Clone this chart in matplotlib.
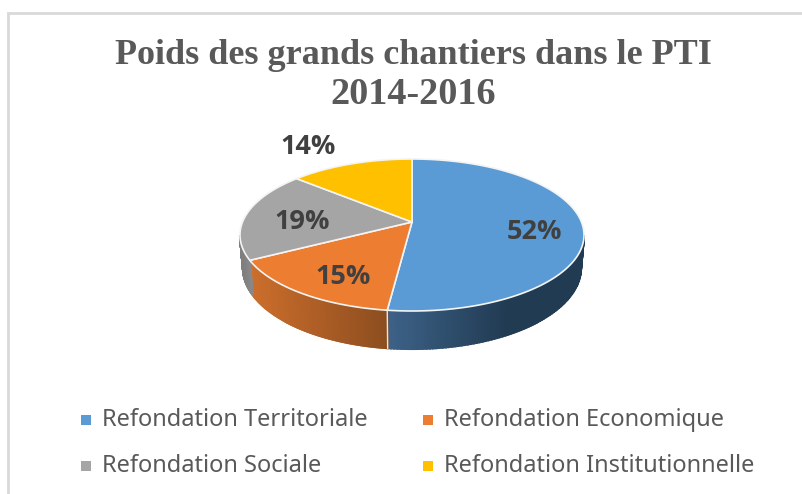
"""
Poids des grands chantiers dans le PTI 2014-2016 - pseudo 3D pie
Axes run in image pixels so the perspective of the pie can be placed directly
"""
import matplotlib
matplotlib.use('Agg')
import matplotlib.pyplot as plt
import numpy as np

# Data
categories = ['Refondation Territoriale', 'Refondation Economique',
              'Refondation Sociale', 'Refondation Institutionnelle']
slice_shares = [52.3, 17.3, 18.7, 11.7]  # drawn shares, as measured on the rim
pct_labels = ['52%', '15%', '19%', '14%']

colors = ['#5B9BD5', '#ED7D31', '#A5A5A5', '#FFC000']
side_left = ['#3D6288', '#CC6E2C', '#7F7F7F', '#7F7F7F']
side_right = ['#213B52', '#8C4D1F', '#8A8A8A', '#8A8A8A']

W, H = 802, 494
fig = plt.figure(figsize=(W / 100, H / 100), dpi=100, facecolor='white')
ax = fig.add_axes([0, 0, 1, 1])
ax.set_xlim(0, W)
ax.set_ylim(H, 0)
ax.axis('off')

# Frame
ax.plot([8, 8, W], [H, 13, 13], color='#D9D9D9', lw=2, solid_joinstyle='miter')

# Pie geometry
cx, cy, rx, ry = 412, 235, 172, 76
bx, by, brx, bry = 412, 268, 169, 81
apex_y = 222


def rim(theta):
    return cx + rx * np.sin(theta), cy - ry * np.cos(theta)


def base(theta):
    return bx + brx * np.sin(theta), by - bry * np.cos(theta)


edges = np.radians(np.concatenate([[0], np.cumsum(slice_shares)]) * 3.6)

# Side walls, split into thin columns for the gradient
for i in range(len(slice_shares)):
    a = max(edges[i], np.pi / 2)
    b = min(edges[i + 1], 3 * np.pi / 2)
    if a >= b:
        continue
    th = np.linspace(a, b, 90)
    x_span = np.sort([rim(a)[0], rim(b)[0]])
    c0 = np.array(matplotlib.colors.to_rgb(side_left[i]))
    c1 = np.array(matplotlib.colors.to_rgb(side_right[i]))
    for t0, t1 in zip(th[:-1], th[1:]):
        x0, y0 = rim(t0)
        x1, y1 = rim(t1)
        x2, y2 = base(t1)
        x3, y3 = base(t0)
        f = (0.5 * (x0 + x1) - x_span[0]) / (x_span[1] - x_span[0])
        if i == 0:
            f = min(f / 0.6, 1)  # blue reaches its darkest tone early
        col = c0 + (c1 - c0) * f
        ax.fill([x0, x1, x2, x3], [y0, y1, y2, y3], color=col, lw=1.5, zorder=2)

# Seam between the blue and orange walls
xs, ys = rim(edges[1])
xb, yb = base(edges[1])
ax.plot([xs, xb], [ys, yb], color='#E8E8E8', lw=1, zorder=3)

# Top faces
for i in range(len(slice_shares)):
    th = np.linspace(edges[i], edges[i + 1], 200)
    x, y = rim(th)
    ax.fill(np.r_[cx, x], np.r_[apex_y, y], facecolor=colors[i],
            edgecolor='#F4F4F4', lw=1.2, joinstyle='round', zorder=4)

# Percent labels
label_pos = [(534, 232), (343, 277), (302, 222), (308, 147)]
for s, (x, y) in zip(pct_labels, label_pos):
    ax.text(x, y, s, fontsize=19.5, fontweight='bold', family='Open Sans',
            color='#404040', ha='center', va='center', zorder=5)

# Title
ax.text(413, 56, 'Poids des grands chantiers dans le PTI', fontsize=26,
        fontweight='bold', family='Liberation Serif', color='#595959',
        ha='center', va='center')
ax.text(413, 94, '2014-2016', fontsize=27.5, fontweight='bold',
        family='Liberation Serif', color='#595959', ha='center', va='center')

# Legend
legend_pos = [(81, 420), (423, 420), (81, 466), (423, 466)]
for name, col, (x, y) in zip(categories, colors, legend_pos):
    ax.fill([x, x + 10, x + 10, x], [y - 5, y - 5, y + 5, y + 5], color=col, lw=0)
    ax.text(x + 21, y, name, fontsize=17, family='Noto Sans', color='#595959',
            ha='left', va='center')

fig.savefig('out.png', dpi=100, facecolor='white')
plt.close(fig)
